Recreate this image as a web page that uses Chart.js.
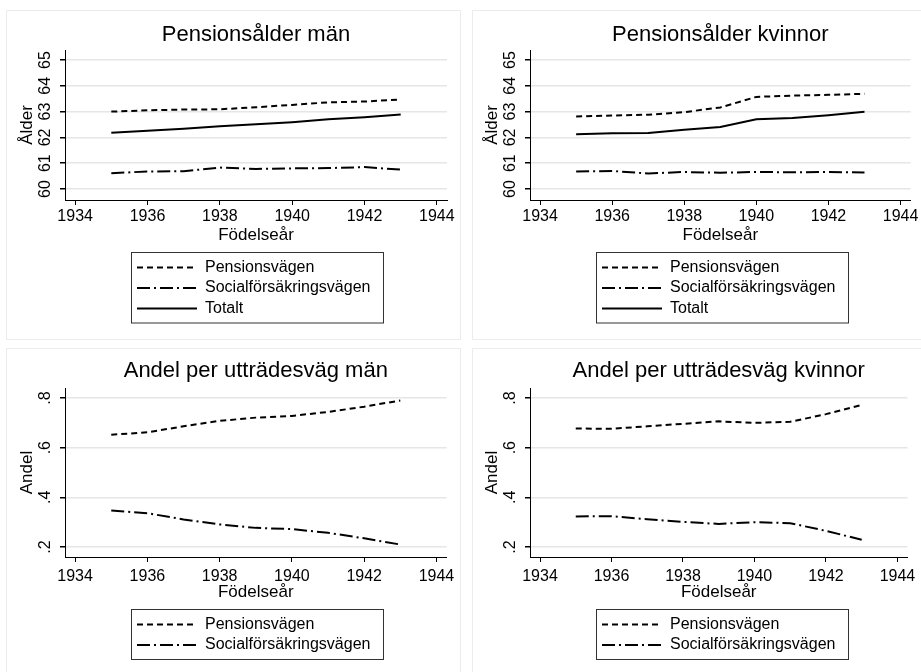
<!DOCTYPE html>
<html>
<head>
<meta charset="utf-8">
<script src="https://cdn.jsdelivr.net/npm/chart.js@4"></script>
<style>
  body { margin: 0; background: #fff; width: 921px; height: 672px; overflow: hidden; position: relative; }
  .panel { position: absolute; border: 1px solid #ececec; box-sizing: border-box; }
  canvas { position: absolute; }
</style>
</head>
<body>
<div class="panel" style="left:6px;top:10px;width:455px;height:330px"></div>
<div class="panel" style="left:472px;top:10px;width:455px;height:330px"></div>
<div class="panel" style="left:6px;top:348px;width:455px;height:330px"></div>
<div class="panel" style="left:472px;top:348px;width:455px;height:330px"></div>
<canvas id="menAge" width="460" height="344" style="left:0;top:0"></canvas>
<canvas id="womenAge" width="456" height="344" style="left:465px;top:0"></canvas>
<canvas id="menShare" width="460" height="328" style="left:0;top:344px"></canvas>
<canvas id="womenShare" width="456" height="328" style="left:465px;top:344px"></canvas>
<script>
// data
const years = [1935, 1936, 1937, 1938, 1939, 1940, 1941, 1942, 1943]
const xTicks = [1934, 1936, 1938, 1940, 1942, 1944]
const ageTicks = [60, 61, 62, 63, 64, 65]
const shareTicks = [0.2, 0.4, 0.6, 0.8]

const menPension = [63.00, 63.05, 63.08, 63.09, 63.17, 63.26, 63.36, 63.39, 63.47]
const menSocial = [60.61, 60.68, 60.69, 60.83, 60.78, 60.80, 60.81, 60.85, 60.75]
const menTotal = [62.18, 62.26, 62.34, 62.43, 62.51, 62.59, 62.70, 62.78, 62.89]

const womenPension = [62.81, 62.85, 62.88, 62.98, 63.16, 63.57, 63.62, 63.65, 63.69]
const womenSocial = [60.68, 60.70, 60.60, 60.66, 60.63, 60.66, 60.65, 60.66, 60.64]
const womenTotal = [62.12, 62.16, 62.17, 62.30, 62.40, 62.70, 62.75, 62.86, 62.99]

const menSharePension = [0.652, 0.662, 0.686, 0.708, 0.721, 0.728, 0.744, 0.765, 0.790]
const menShareSocial = [0.347, 0.336, 0.311, 0.291, 0.277, 0.272, 0.257, 0.235, 0.210]
const womenSharePension = [0.677, 0.676, 0.686, 0.696, 0.706, 0.700, 0.704, 0.735, 0.772]
const womenShareSocial = [0.323, 0.324, 0.312, 0.301, 0.293, 0.300, 0.296, 0.265, 0.229]

const FONT = "'Liberation Sans', Arial, sans-serif"
Chart.defaults.font.family = FONT
Chart.defaults.color = "#000"

const dashes = {
  "Pensionsvägen": [6, 4],
  "Socialförsäkringsvägen": [13, 4, 2, 4],
  "Totalt": []
}

// boxed legend under the x axis title, one row per line
const boxLegend = {
  id: "boxLegend",
  afterDraw(chart, args, o) {
    const ctx = chart.ctx
    const sets = chart.data.datasets
    const h = sets.length * 20.5 + 9
    ctx.save()
    ctx.strokeStyle = "#333"
    ctx.lineWidth = 1
    ctx.setLineDash([])
    ctx.strokeRect(o.left + 0.5, o.top + 0.5, 252, h)
    sets.forEach((ds, i) => {
      const y = o.top + 15.5 + i * 20.5
      ctx.beginPath()
      ctx.setLineDash(ds.borderDash)
      ctx.lineWidth = ds.borderWidth
      ctx.strokeStyle = "#000"
      ctx.moveTo(o.left + 6, y)
      ctx.lineTo(o.left + 66, y)
      ctx.stroke()
      ctx.setLineDash([])
      ctx.fillStyle = "#000"
      ctx.font = "16px " + FONT
      ctx.textBaseline = "middle"
      ctx.fillText(ds.label, o.left + 74, y)
    })
    ctx.restore()
  }
}

function makeChart(id, title, yTitle, series, yMin, yMax, yTicks, fmt, p) {
  const datasets = series.map(s => ({
    label: s.name,
    data: years.map((yr, i) => ({ x: yr, y: s.values[i] })),
    borderColor: "#000",
    borderWidth: 2,
    borderDash: dashes[s.name],
    pointRadius: 0,
    tension: 0,
    fill: false
  }))
  return new Chart(document.getElementById(id), {
    type: "line",
    data: { datasets },
    plugins: [boxLegend],
    options: {
      responsive: false,
      animation: false,
      layout: { padding: { left: 6, right: p.right, top: 0, bottom: p.bottom } },
      plugins: {
        legend: { display: false },
        tooltip: { enabled: false },
        title: {
          display: true, text: title, fullSize: false, color: "#000",
          font: { size: 22, weight: "normal" },
          padding: { top: p.titleTop, bottom: p.titleBottom }
        },
        boxLegend: { left: 131, top: p.legendTop }
      },
      scales: {
        x: {
          type: "linear", min: 1933.72, max: 1944.28,
          afterBuildTicks: s => { s.ticks = xTicks.map(v => ({ value: v })) },
          afterFit: s => { s.height = 45.2 },
          grid: { drawOnChartArea: false, tickColor: "#000", tickLength: 5 },
          border: { color: "#000", width: 1 },
          ticks: { font: { size: 16 }, padding: p.xPad, maxRotation: 0, callback: v => String(v) },
          title: { display: true, text: "Födelseår", font: { size: 17 }, padding: { top: 0, bottom: 0 } }
        },
        y: {
          min: yMin, max: yMax,
          afterBuildTicks: s => { s.ticks = yTicks.map(v => ({ value: v })) },
          afterFit: s => { s.width = 59 },
          grid: { color: "#e6e6e6", lineWidth: 1.5, tickColor: "#000", tickLength: 5 },
          border: { color: "#000", width: 1 },
          ticks: { font: { size: 16 }, padding: p.yPad, minRotation: 90, maxRotation: 90, crossAlign: "center", callback: fmt },
          title: { display: true, text: yTitle, font: { size: 17 }, padding: { top: 10.8, bottom: 0 } }
        }
      }
    }
  })
}

const ageFmt = v => String(v)
const shareFmt = v => String(v).replace(/^0/, "")

const topP = { titleTop: 21.8, titleBottom: 1.8, bottom: 98.8, xPad: 2.4, yPad: 6, legendTop: 252 }
const botP = { titleTop: 13.8, titleBottom: 3.8, bottom: 69.8, xPad: 5.4, yPad: 7.3, legendTop: 265 }

makeChart("menAge", "Pensionsålder män", "Ålder", [
  { name: "Pensionsvägen", values: menPension },
  { name: "Socialförsäkringsvägen", values: menSocial },
  { name: "Totalt", values: menTotal }
], 59.574, 65.388, ageTicks, ageFmt, Object.assign({ right: 13 }, topP))

makeChart("womenAge", "Pensionsålder kvinnor", "Ålder", [
  { name: "Pensionsvägen", values: womenPension },
  { name: "Socialförsäkringsvägen", values: womenSocial },
  { name: "Totalt", values: womenTotal }
], 59.574, 65.388, ageTicks, ageFmt, Object.assign({ right: 8 }, topP))

makeChart("menShare", "Andel per utträdesväg män", "Andel", [
  { name: "Pensionsvägen", values: menSharePension },
  { name: "Socialförsäkringsvägen", values: menShareSocial }
], 0.1597, 0.8403, shareTicks, shareFmt, Object.assign({ right: 13 }, botP))

makeChart("womenShare", "Andel per utträdesväg kvinnor", "Andel", [
  { name: "Pensionsvägen", values: womenSharePension },
  { name: "Socialförsäkringsvägen", values: womenShareSocial }
], 0.1597, 0.8403, shareTicks, shareFmt, Object.assign({ right: 8 }, botP))
</script>
</body>
</html>
